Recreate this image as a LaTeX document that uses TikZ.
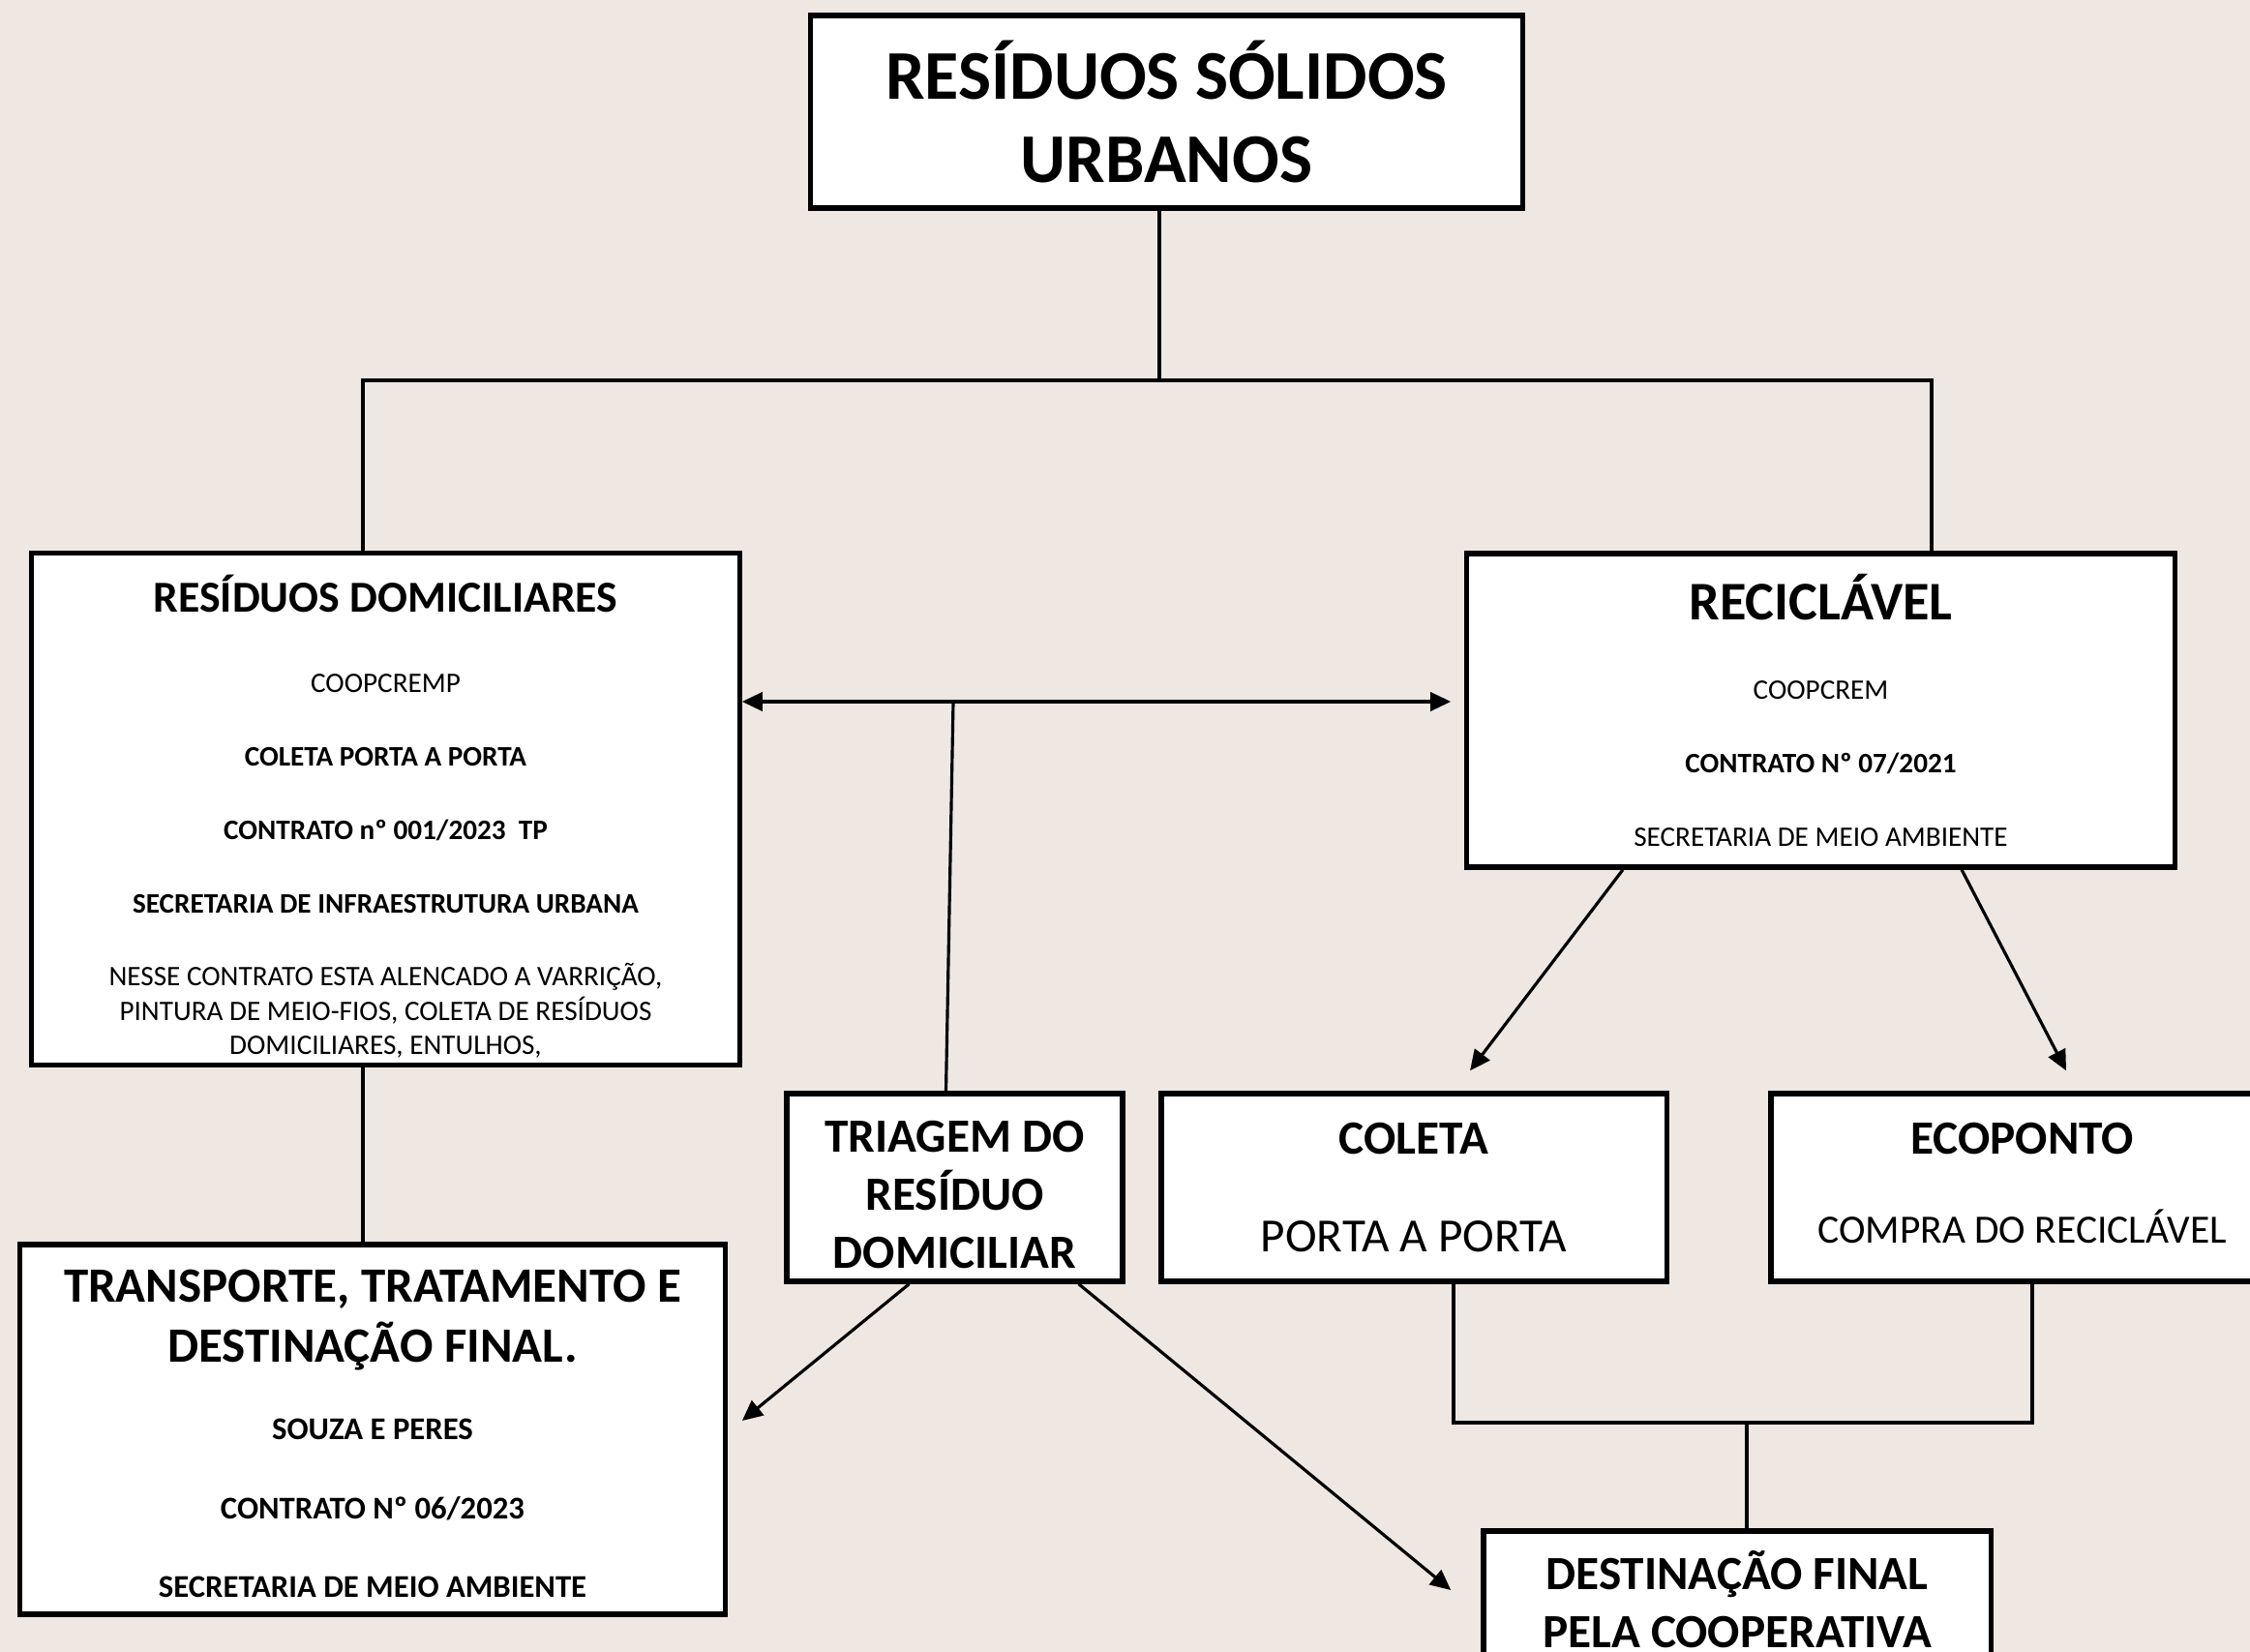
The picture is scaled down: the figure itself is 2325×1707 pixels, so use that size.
\documentclass[tikz,border=0pt]{standalone}
\usepackage{fontspec}
\setmainfont{Carlito}
\usetikzlibrary{arrows.meta, positioning}
\definecolor{fundo}{RGB}{238,231,226}

\newcommand{\fTitulo}{\fontsize{20.5}{24.5}\selectfont\bfseries}
\newcommand{\fCaixa}{\fontsize{14}{17}\selectfont\bfseries}
\newcommand{\fMiudo}{\fontsize{8.3}{10}\selectfont}

\begin{document}
\begin{tikzpicture}[x=0.01cm, y=-0.01cm,
    caixa/.style={draw, line width=1.5pt, fill=white, inner sep=0pt, align=flush center},
    liga/.style={line width=0.9pt},
    seta/.style={line width=0.9pt, >={Triangle[length=6pt,width=5.5pt]}}]
  \useasboundingbox (0,0) rectangle (2325,1707);
  \clip (0,0) rectangle (2325,1707);
  \fill[fundo] (0,0) rectangle (2325,1707);

  % caixas
  \node[caixa, minimum width=7.35cm, minimum height=1.99cm, text width=7cm] (rsu) at (1205.5,115.5)
    {\fTitulo RESÍDUOS SÓLIDOS\\URBANOS\par};
  \node[caixa, minimum width=7.31cm, minimum height=5.28cm, text width=7cm] (rd) at (398.5,836) {%
    {\fontsize{13}{15.6}\selectfont\bfseries RESÍDUOS DOMICILIARES\par}\vspace{13.6pt}
    {\fMiudo COOPCREMP\par}\vspace{11.6pt}
    {\fMiudo\bfseries COLETA PORTA A PORTA\par}\vspace{11.6pt}
    {\fMiudo\bfseries CONTRATO nº 001/2023\ \ TP\par}\vspace{11.6pt}
    {\fMiudo\bfseries SECRETARIA DE INFRAESTRUTURA URBANA\par}\vspace{11.6pt}
    {\fMiudo NESSE CONTRATO ESTA ALENCADO A VARRIÇÃO,\\PINTURA DE MEIO-FIOS, COLETA DE RESÍDUOS\\DOMICILIARES, ENTULHOS,\par}%
    \vspace*{-4.2pt}\hrule height 0pt};
  \node[caixa, minimum width=7.31cm, minimum height=3.24cm, text width=7cm] (rec) at (1881.5,734) {%
    {\fontsize{16}{19.2}\selectfont\bfseries RECICLÁVEL\par}\vspace{13.3pt}
    {\fMiudo COOPCREM\par}\vspace{11.8pt}
    {\fMiudo\bfseries CONTRATO Nº 07/2021\par}\vspace{11.6pt}
    {\fMiudo SECRETARIA DE MEIO AMBIENTE\par}};
  \node[caixa, minimum width=3.47cm, minimum height=1.94cm, text width=3.3cm] (tri) at (986.5,1227)
    {{\fCaixa TRIAGEM DO\\RESÍDUO\\DOMICILIAR\par}\vspace*{-4.2pt}\hrule height 0pt};
  \node[caixa, minimum width=7.28cm, minimum height=3.82cm, text width=7cm] (tr) at (385,1477) {%
    {\fontsize{14.5}{17.6}\selectfont\bfseries TRANSPORTE, TRATAMENTO E\\DESTINAÇÃO FINAL.\par}\vspace{11.6pt}
    {\fontsize{9.3}{11.2}\selectfont\bfseries SOUZA E PERES\par}\vspace{12.1pt}
    {\fontsize{9.3}{11.2}\selectfont\bfseries CONTRATO Nº 06/2023\par}\vspace{11.9pt}
    {\fontsize{9.3}{11.2}\selectfont\bfseries SECRETARIA DE MEIO AMBIENTE\par}%
    \vspace*{-2.5pt}\hrule height 0pt};
  \node[caixa, minimum width=5.22cm, minimum height=1.94cm, text width=5cm] (col) at (1461,1227) {%
    {\fCaixa COLETA\par}\vspace{11.9pt}
    {\fontsize{14}{16.8}\selectfont PORTA A PORTA\par}};
  \node[caixa, minimum width=5.19cm, minimum height=1.94cm, text width=5cm] (eco) at (2089.5,1227) {%
    {\fCaixa ECOPONTO\par}\vspace{11.9pt}
    {\fontsize{11.8}{14.2}\selectfont COMPRA DO RECICLÁVEL\par}\vspace*{2.5pt}\hrule height 0pt};
  \node[caixa, minimum width=5.24cm, minimum height=1.5cm, text width=5cm] (dest) at (1795,1657)
    {{\fCaixa DESTINAÇÃO FINAL\\PELA COOPERATIVA\par}\vspace*{2.5pt}\hrule height 0pt};

  % ligacoes
  \coordinate (cruz) at (1198,393);
  \coordinate (cruzE) at (375,393);
  \coordinate (cruzD) at (1996,393);
  \draw[liga] (cruz |- rsu.south) -- (cruz);
  \draw[liga] (cruzE |- rd.north) -- (cruzE) -- (cruzD) -- (cruzD |- rec.north);

  \coordinate (meio) at (985,725);
  \draw[seta, <->, shorten >=0.14cm] (rd.east |- meio) -- (rec.west |- meio);
  \draw[liga] (meio) -- ([xshift=-0.09cm]tri.north);
  \draw[liga] (cruzE |- rd.south) -- (cruzE |- tr.north);

  \draw[seta, ->] ([xshift=-0.47cm]tri.south) -- ([xshift=0.15cm,yshift=0.09cm]tr.east);
  \draw[seta, ->] ([xshift=1.28cm]tri.south) -- ([xshift=-0.31cm,yshift=0.14cm]dest.west);
  \draw[seta, ->] ([xshift=-2.045cm]rec.south) -- ([xshift=0.58cm,yshift=0.21cm]col.north);
  \draw[seta, ->] ([xshift=1.455cm]rec.south) -- ([xshift=0.455cm,yshift=0.21cm]eco.north);

  \coordinate (juntaE) at (1502,1470);
  \coordinate (juntaD) at (2100,1470);
  \coordinate (junta) at (1805,1470);
  \draw[liga] (juntaE |- col.south) -- (juntaE) -- (juntaD) -- (juntaD |- eco.south);
  \draw[liga] (junta) -- (junta |- dest.north);
\end{tikzpicture}
\end{document}
